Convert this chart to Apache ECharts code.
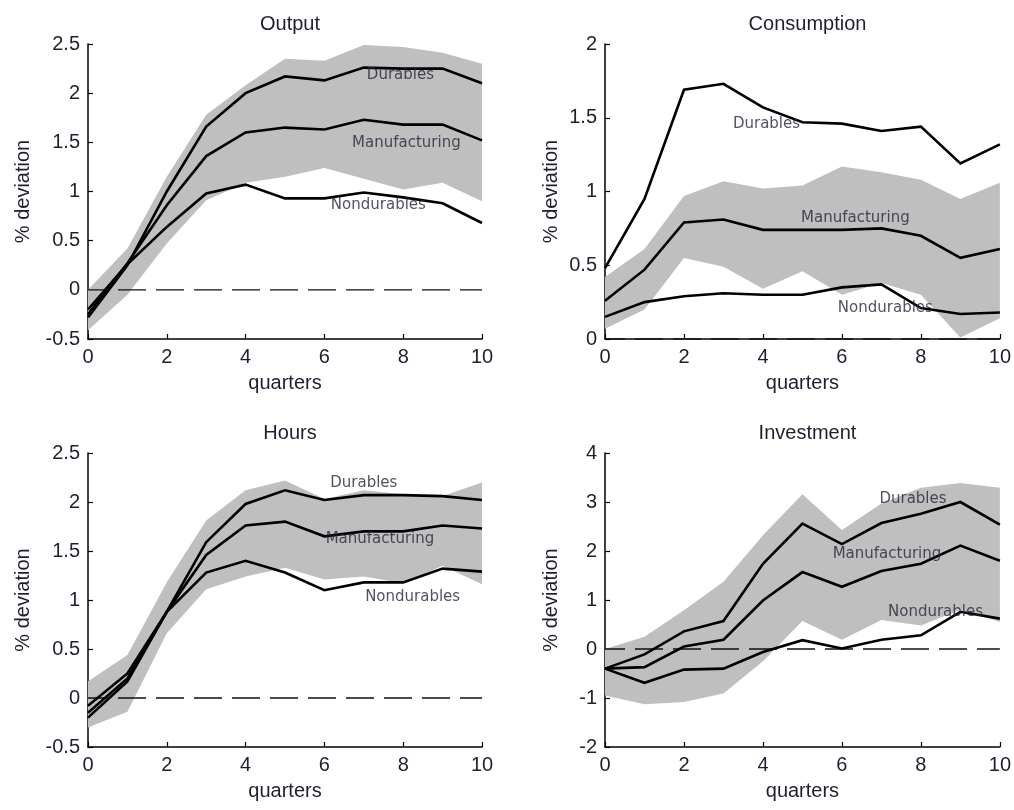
<!DOCTYPE html>
<html>
<head>
<meta charset="utf-8">
<title>Impulse responses by sector</title>
<script src="https://cdn.jsdelivr.net/npm/echarts@6/dist/echarts.min.js"></script>
<style>
  html, body { margin: 0; padding: 0; background: #ffffff; }
  #chart { width: 1014px; height: 810px; }
</style>
</head>
<body>
<div id="chart"></div>
<script>
// Horizon in quarters
const quarters = [0, 1, 2, 3, 4, 5, 6, 7, 8, 9, 10];

// Output
const outDurables      = [-0.28, 0.25, 1.00, 1.66, 2.00, 2.17, 2.13, 2.26, 2.25, 2.25, 2.10];
const outManufacturing = [-0.25, 0.27, 0.86, 1.36, 1.60, 1.65, 1.63, 1.73, 1.68, 1.68, 1.52];
const outNondurables   = [-0.20, 0.26, 0.64, 0.98, 1.07, 0.93, 0.93, 0.99, 0.94, 0.88, 0.68];
const outBandHigh      = [0.00, 0.42, 1.15, 1.78, 2.08, 2.35, 2.33, 2.49, 2.47, 2.41, 2.30];
const outBandLow       = [-0.41, -0.05, 0.47, 0.91, 1.09, 1.15, 1.24, 1.13, 1.02, 1.09, 0.90];

// Consumption
const conDurables      = [0.48, 0.95, 1.69, 1.73, 1.57, 1.47, 1.46, 1.41, 1.44, 1.19, 1.32];
const conManufacturing = [0.26, 0.47, 0.79, 0.81, 0.74, 0.74, 0.74, 0.75, 0.70, 0.55, 0.61];
const conNondurables   = [0.15, 0.25, 0.29, 0.31, 0.30, 0.30, 0.35, 0.37, 0.21, 0.17, 0.18];
const conBandHigh      = [0.42, 0.61, 0.97, 1.07, 1.02, 1.04, 1.17, 1.13, 1.08, 0.95, 1.06];
const conBandLow       = [0.07, 0.20, 0.55, 0.49, 0.34, 0.46, 0.30, 0.38, 0.30, 0.01, 0.14];

// Hours
const hrsDurables      = [-0.20, 0.17, 0.88, 1.59, 1.98, 2.12, 2.02, 2.07, 2.07, 2.06, 2.02];
const hrsManufacturing = [-0.15, 0.20, 0.88, 1.46, 1.76, 1.80, 1.65, 1.70, 1.70, 1.76, 1.73];
const hrsNondurables   = [-0.08, 0.25, 0.88, 1.28, 1.40, 1.28, 1.10, 1.18, 1.18, 1.32, 1.29];
const hrsBandHigh      = [0.17, 0.44, 1.18, 1.81, 2.12, 2.22, 2.03, 2.12, 2.08, 2.06, 2.20];
const hrsBandLow       = [-0.30, -0.14, 0.66, 1.11, 1.24, 1.33, 1.21, 1.24, 1.17, 1.35, 1.16];

// Investment
const invDurables      = [-0.40, -0.11, 0.36, 0.57, 1.74, 2.56, 2.14, 2.57, 2.76, 3.00, 2.54];
const invManufacturing = [-0.40, -0.37, 0.05, 0.19, 0.99, 1.57, 1.27, 1.59, 1.74, 2.11, 1.80];
const invNondurables   = [-0.40, -0.69, -0.42, -0.40, -0.06, 0.18, 0.01, 0.19, 0.28, 0.76, 0.62];
const invBandHigh      = [0.00, 0.25, 0.79, 1.37, 2.32, 3.16, 2.43, 2.97, 3.29, 3.39, 3.29];
const invBandLow       = [-0.95, -1.13, -1.08, -0.91, -0.25, 0.57, 0.19, 0.59, 0.48, 0.80, 0.55];

// Panel titles and y-axis ranges
const panelTitles = ['Output', 'Consumption', 'Hours', 'Investment'];
const yMin      = [-0.5, 0, -0.5, -2];
const yMax      = [2.5, 2, 2.5, 4];
const yInterval = [0.5, 0.5, 0.5, 1];
const seriesNames = ['Durables', 'Manufacturing', 'Nondurables'];

// Where each in-plot series name sits, in data units [quarter, value]
const labelAt = [
  [[7.93, 2.18], [8.08, 1.49], [7.37, 0.86]],
  [[4.09, 1.46], [6.34, 0.82], [7.10, 0.21]],
  [[7.00, 2.19], [7.41, 1.62], [8.24, 1.03]],
  [[7.80, 3.05], [7.14, 1.93], [8.37, 0.76]]
];

const panels = [
  { lines: [outDurables, outManufacturing, outNondurables], high: outBandHigh, low: outBandLow },
  { lines: [conDurables, conManufacturing, conNondurables], high: conBandHigh, low: conBandLow },
  { lines: [hrsDurables, hrsManufacturing, hrsNondurables], high: hrsBandHigh, low: hrsBandLow },
  { lines: [invDurables, invManufacturing, invNondurables], high: invBandHigh, low: invBandLow }
];

// Plot-area boxes for the 2x2 layout
const grids = [
  { left: 88,  top: 44,  width: 394, height: 295 },
  { left: 605, top: 44,  width: 395, height: 295 },
  { left: 88,  top: 453, width: 394, height: 294 },
  { left: 605, top: 453, width: 395, height: 294 }
];

const FONT = 'Liberation Sans, Arial, sans-serif';
const TEXT = '#1f1f2e';

const option = {
  animation: false,
  backgroundColor: '#ffffff',
  title: grids.map((g, i) => ({
    text: panelTitles[i],
    left: g.left + g.width / 2,
    top: g.top - 35,
    textAlign: 'center',
    textStyle: { fontFamily: FONT, fontSize: 20, fontWeight: 'normal', color: TEXT }
  })),
  grid: grids.map(g => Object.assign({ containLabel: false }, g)),
  xAxis: grids.map((g, i) => ({
    type: 'value',
    gridIndex: i,
    min: 0, max: 10, interval: 2,
    name: 'quarters',
    nameLocation: 'middle',
    nameGap: 34,
    nameTextStyle: { fontFamily: FONT, fontSize: 20, color: TEXT },
    axisLine: { show: true, onZero: false, lineStyle: { color: '#000', width: 1.5 } },
    axisTick: { show: true, inside: true, length: 5, lineStyle: { color: '#000', width: 1.2 } },
    axisLabel: { fontFamily: FONT, fontSize: 20, color: TEXT, margin: 8 },
    splitLine: { show: false }
  })),
  yAxis: grids.map((g, i) => ({
    type: 'value',
    gridIndex: i,
    min: yMin[i], max: yMax[i], interval: yInterval[i],
    name: '% deviation',
    nameLocation: 'middle',
    nameRotate: 90,
    nameGap: i % 2 === 0 ? 55 : 44,
    nameTextStyle: { fontFamily: FONT, fontSize: 20, color: TEXT },
    axisLine: { show: true, onZero: false, lineStyle: { color: '#000', width: 1.5 } },
    axisTick: { show: true, inside: true, length: 5, lineStyle: { color: '#000', width: 1.2 } },
    axisLabel: { fontFamily: FONT, fontSize: 20, color: TEXT, margin: 8 },
    splitLine: { show: false }
  })),
  series: []
};

panels.forEach((p, i) => {
  // Confidence band around the manufacturing response
  option.series.push({
    type: 'custom',
    xAxisIndex: i, yAxisIndex: i,
    z: 1,
    silent: true,
    data: quarters.map((q, k) => [q, p.low[k], p.high[k]]),
    encode: { x: 0, y: [1, 2] },
    renderItem: function (params, api) {
      if (params.dataIndex !== 0) return null;
      const pts = [];
      for (let k = 0; k < quarters.length; k++) pts.push(api.coord([quarters[k], p.high[k]]));
      for (let k = quarters.length - 1; k >= 0; k--) pts.push(api.coord([quarters[k], p.low[k]]));
      return { type: 'polygon', shape: { points: pts }, style: { fill: '#bfbfbf', stroke: null } };
    }
  });

  // Zero reference
  option.series.push({
    type: 'line',
    xAxisIndex: i, yAxisIndex: i,
    z: 2,
    silent: true,
    symbol: 'none',
    data: [[quarters[0], 0], [quarters[quarters.length - 1], 0]],
    lineStyle: { color: '#111111', width: 1.3, type: [28, 10], dashOffset: 8 }
  });

  // Sector responses
  p.lines.forEach((vals, s) => {
    option.series.push({
      type: 'line',
      name: seriesNames[s],
      xAxisIndex: i, yAxisIndex: i,
      z: 3,
      silent: true,
      symbol: 'none',
      data: quarters.map((q, k) => [q, vals[k]]),
      lineStyle: { color: '#000000', width: 2.6, join: 'miter' }
    });
  });

  // Series names written inside the plot
  option.series.push({
    type: 'scatter',
    xAxisIndex: i, yAxisIndex: i,
    z: 4,
    silent: true,
    symbolSize: 1,
    itemStyle: { color: 'rgba(0,0,0,0)' },
    data: labelAt[i].map((pos, s) => ({ value: pos, name: seriesNames[s] })),
    label: {
      show: true,
      position: 'inside',
      formatter: '{b}',
      fontFamily: 'DejaVu Sans, sans-serif',
      fontSize: 15,
      color: '#26263a'
    }
  });
});

const chart = echarts.init(document.getElementById('chart'), null, { renderer: 'canvas' });
chart.setOption(option);
</script>
</body>
</html>
